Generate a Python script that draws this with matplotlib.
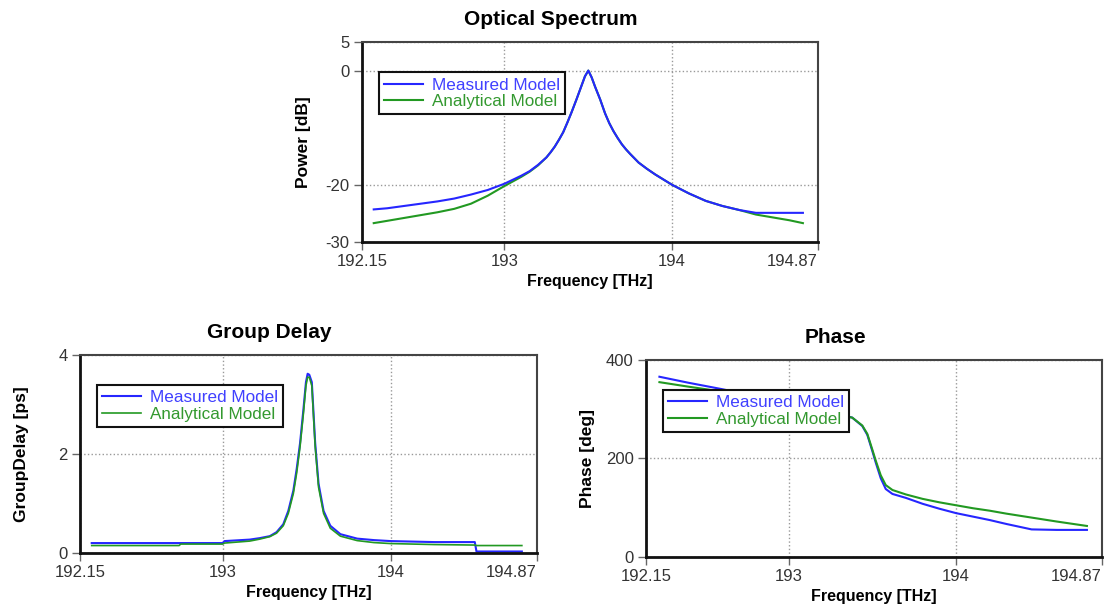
import matplotlib
matplotlib.use("Agg")
import matplotlib.pyplot as plt

# Optical spectrum
freq_power = [192.22, 192.3, 192.4, 192.5, 192.6, 192.7, 192.8, 192.9, 193.0,
              193.1, 193.15, 193.2, 193.25, 193.275, 193.3, 193.325, 193.35,
              193.375, 193.4, 193.43, 193.46, 193.48, 193.5, 193.52, 193.54,
              193.57, 193.6, 193.625, 193.65, 193.675, 193.7, 193.725, 193.75,
              193.8, 193.85, 193.9, 193.95, 194.0, 194.1, 194.2, 194.3, 194.4,
              194.5, 194.6, 194.7, 194.78]
power_measured = [-24.3, -24.1, -23.7, -23.3, -22.9, -22.4, -21.7, -20.9,
                  -19.8, -18.4, -17.6, -16.5, -15.2, -14.3, -13.3, -12.1,
                  -10.8, -9.1, -7.3, -5.0, -2.6, -1.0, 0.0, -1.2, -2.8, -5.0,
                  -7.5, -9.2, -10.6, -11.8, -12.9, -13.8, -14.6, -16.1, -17.2,
                  -18.2, -19.1, -20.0, -21.5, -22.8, -23.7, -24.4, -24.9,
                  -24.9, -24.9, -24.9]
power_analytical = [-26.7, -26.3, -25.8, -25.3, -24.8, -24.2, -23.3, -21.9,
                    -20.2, -18.6, -17.7, -16.6, -15.2, -14.3, -13.3, -12.1,
                    -10.8, -9.1, -7.3, -5.0, -2.6, -1.0, 0.0, -1.2, -2.8, -5.0,
                    -7.5, -9.2, -10.6, -11.8, -12.9, -13.8, -14.6, -16.1,
                    -17.2, -18.2, -19.1, -20.0, -21.5, -22.8, -23.7, -24.4,
                    -25.2, -25.7, -26.2, -26.7]

# Group delay
freq_gd = [192.22, 192.74, 192.75, 193.0, 193.01, 193.16, 193.22, 193.28,
           193.32, 193.36, 193.39, 193.42, 193.44, 193.46, 193.48, 193.495,
           193.505, 193.515, 193.53, 193.55, 193.57, 193.6, 193.64, 193.7,
           193.8, 193.9, 194.0, 194.26, 194.5, 194.51, 194.78]
gd_measured = [0.20, 0.20, 0.20, 0.20, 0.24, 0.27, 0.30, 0.34, 0.42, 0.58,
               0.85, 1.26, 1.70, 2.22, 2.90, 3.45, 3.62, 3.60, 3.45, 2.22,
               1.40, 0.85, 0.55, 0.38, 0.29, 0.26, 0.24, 0.22, 0.22, 0.03,
               0.03]
gd_analytical = [0.15, 0.15, 0.18, 0.18, 0.20, 0.24, 0.28, 0.33, 0.40, 0.55,
                 0.80, 1.20, 1.62, 2.15, 2.82, 3.38, 3.55, 3.55, 3.38, 2.15,
                 1.33, 0.80, 0.50, 0.34, 0.25, 0.21, 0.19, 0.17, 0.16, 0.15,
                 0.15]

# Phase
freq_phase = [192.23, 192.4, 192.6, 192.8, 193.0, 193.2, 193.3, 193.38,
              193.44, 193.47, 193.5, 193.52, 193.55, 193.58, 193.62, 193.7,
              193.8, 193.9, 194.0, 194.1, 194.2, 194.3, 194.45, 194.6, 194.78]
phase_measured = [366, 354, 341, 327, 312, 297, 290, 283, 266, 248, 215, 192,
                  160, 138, 128, 120, 108, 98, 89, 82, 75, 67, 56, 55, 55]
phase_analytical = [355, 346, 336, 322, 307, 294, 288, 283, 267, 250, 218, 196,
                    166, 146, 136, 127, 118, 111, 105, 99, 94, 88, 80, 72, 63]

freq_ticks = [192.15, 193, 194, 194.87]
freq_tick_labels = ["192.15", "193", "194", "194.87"]

BLUE = "#2626ff"
GREEN = "#229922"


def style_axes(ax, handles, yticks, ylabels, ylim, title, ylabel):
    """Give one panel the look of the reference plots."""
    ax.set_xlim(192.15, 194.87)
    ax.set_ylim(*ylim)
    ax.set_xticks(freq_ticks)
    ax.set_xticklabels(freq_tick_labels)
    ax.get_xticklabels()[-1].set_horizontalalignment("right")
    ax.set_yticks(yticks)
    ax.set_yticklabels(ylabels)
    ax.tick_params(direction="out", length=6, width=1, color="#666666",
                   labelsize=12, labelcolor="#333333", pad=3)
    ax.grid(True, linestyle=":", color="#999999", linewidth=1)
    for side in ("top", "right"):
        ax.spines[side].set_color("#444444")
        ax.spines[side].set_linewidth(1.5)
    for side in ("left", "bottom"):
        ax.spines[side].set_color("#111111")
        ax.spines[side].set_linewidth(2)
    ax.set_xlabel("Frequency [THz]", fontsize=11.5, fontweight="bold",
                  labelpad=3)
    ax.set_ylabel(ylabel, fontsize=12.5, fontweight="bold")
    ax.yaxis.set_label_coords(-0.112, 0.5)
    ax.text(0.415, 1.115, title, transform=ax.transAxes, ha="center",
            va="center", fontsize=15, fontweight="bold")
    leg = ax.legend(handles, [h.get_label() for h in handles],
                    loc="upper left", bbox_to_anchor=(0.037, 0.848),
                    borderaxespad=0, fontsize=12.3, frameon=True,
                    framealpha=1, fancybox=False, handlelength=2.3,
                    handletextpad=0.5, borderpad=0.3, labelspacing=0.1)
    leg.get_frame().set_edgecolor("#111111")
    leg.get_frame().set_linewidth(1.5)
    leg.get_texts()[0].set_color("#4040ff")
    leg.get_texts()[1].set_color("#33992f")


def main():
    plt.rcParams["font.family"] = ["Liberation Sans", "DejaVu Sans"]
    fig = plt.figure(figsize=(11.06, 6.08), dpi=100)

    ax1 = fig.add_axes([0.3273, 0.6020, 0.4123, 0.3289])
    a1, = ax1.plot(freq_power, power_analytical, color=GREEN, linewidth=1.5,
                   label="Analytical Model")
    m1, = ax1.plot(freq_power, power_measured, color=BLUE, linewidth=1.5,
                   label="Measured Model")
    style_axes(ax1, [m1, a1], [-30, -20, 0, 5], ["-30", "-20", "0", "5"],
               (-30, 5), "Optical Spectrum", "Power [dB]")

    ax2 = fig.add_axes([0.0723, 0.0905, 0.4132, 0.3257])
    m2, = ax2.plot(freq_gd, gd_measured, color=BLUE, linewidth=1.5,
                   label="Measured Model")
    a2, = ax2.plot(freq_gd, gd_analytical, color=GREEN, linewidth=1.2,
                   label="Analytical Model")
    style_axes(ax2, [m2, a2], [0, 2, 4], ["0", "2", "4"], (0, 4),
               "Group Delay", "GroupDelay [ps]")

    ax3 = fig.add_axes([0.5841, 0.0839, 0.4123, 0.3240])
    m3, = ax3.plot(freq_phase, phase_measured, color=BLUE, linewidth=1.5,
                   label="Measured Model")
    a3, = ax3.plot(freq_phase, phase_analytical, color=GREEN, linewidth=1.5,
                   label="Analytical Model")
    style_axes(ax3, [m3, a3], [0, 200, 400], ["0", "200", "400"], (0, 400),
               "Phase", "Phase [deg]")

    fig.savefig("out.png", dpi=100)


if __name__ == "__main__":
    main()
